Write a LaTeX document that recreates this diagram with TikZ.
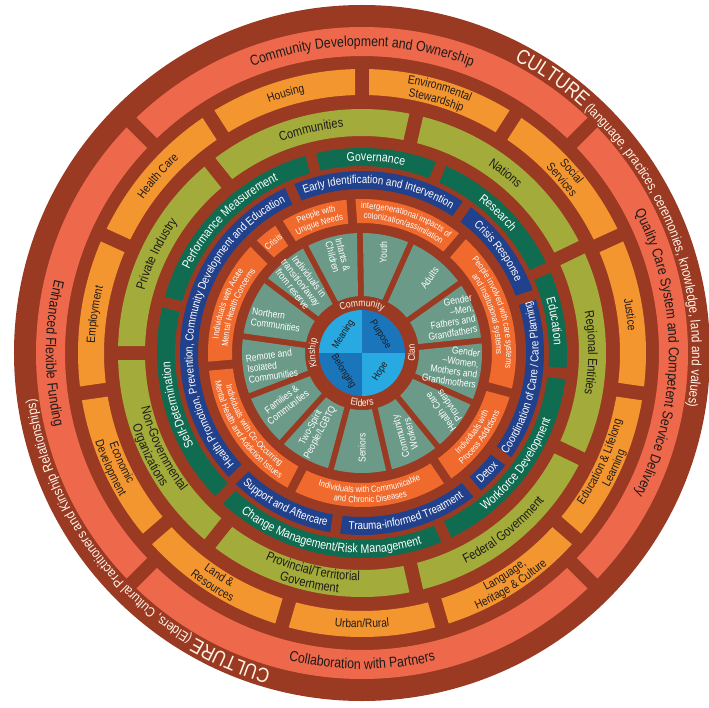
\documentclass[tikz,border=0pt]{standalone}
\usepackage{fontspec}
\setmainfont{Liberation Sans}[FakeStretch=0.85]
\usetikzlibrary{decorations.text}
\definecolor{rust}{HTML}{9A3A22}
\definecolor{salmon}{HTML}{EE694B}
\definecolor{amber}{HTML}{F3962F}
\definecolor{olive}{HTML}{A3AB3A}
\definecolor{pine}{HTML}{0F6C51}
\definecolor{navy}{HTML}{21418D}
\definecolor{flame}{HTML}{EF6A2C}
\definecolor{sage}{HTML}{6B9A88}
\definecolor{sky}{HTML}{29A9E1}
\definecolor{deepsky}{HTML}{1B75BB}
\definecolor{cream}{HTML}{FFF4E8}
\definecolor{ink}{HTML}{1E1A1A}
\newcommand\fsA{\fontsize{14.5}{15}\selectfont}
\newcommand\fsB{\fontsize{12}{12}\selectfont}
\newcommand\fsL{\fontsize{13}{13}\selectfont}
\newcommand\fsG{\fontsize{12.5}{12.5}\selectfont}
\newcommand\fsN{\fontsize{11.5}{11.5}\selectfont}
\newcommand\fsR{\fontsize{9}{9}\selectfont}
\newcommand\fsW{\fontsize{10}{10.5}\selectfont}
\newcommand\fsK{\fontsize{10}{10}\selectfont}
\newcommand\fsC{\fontsize{20.5}{20.5}\selectfont}
\newcommand\fsD{\fontsize{13.8}{13.8}\selectfont}
\newcommand\ringseg[6]{%
  \pgfmathsetmacro\angA{#5+#2*28.648/#3}%
  \pgfmathsetmacro\angB{#6-#2*28.648/#3}%
  \pgfmathsetmacro\angC{#5+#2*28.648/#4}%
  \pgfmathsetmacro\angD{#6-#2*28.648/#4}%
  \fill[#1] (\angA:#3pt) arc[start angle=\angA,end angle=\angB,radius=#3pt] -- (\angD:#4pt) arc[start angle=\angD,end angle=\angC,radius=#4pt] -- cycle;}
\newcommand\arctxt[6]{%
  \path[decorate,decoration={text along path,text align=center,text color=#2,text={|#1|#6}}] (#4:#3pt) arc[start angle=#4,end angle=#5,radius=#3pt];}

\begin{document}
\begin{tikzpicture}[wedgelabel/.style={text=white,font=\fsW,align=center,inner sep=0pt},corelabel/.style={text=ink,font=\fsK,inner sep=0pt}]
\fill[white] (-362pt,-354pt) rectangle (347pt,353pt);
\useasboundingbox (-362pt,-354pt) rectangle (347pt,353pt);
\fill[rust] (0,0) circle[radius=348pt];
\foreach \a/\b in {45/135,135/225,225/315,315/405} {\ringseg{salmon}{14}{297}{326}{\a}{\b}}
\foreach \k in {0,...,10} {\ringseg{amber}{14}{258}{284}{90+\k*32.727}{122.727+\k*32.727}}
\foreach \k in {0,...,6} {\ringseg{olive}{14}{217}{244}{25.714+\k*51.429}{77.143+\k*51.429}}
\foreach \a/\b in {24.6/67.3,67.3/104.5,104.5/165.6,165.6/225.8,225.8/294.3,294.3/354.2,354.2/384.6} {\ringseg{pine}{11}{187}{205}{\a}{\b}}
\foreach \a/\b in {18.7/54.8,54.8/113.4,113.4/224.5,224.5/261.5,261.5/309.3,309.3/323.5,323.5/378.7} {\ringseg{navy}{10}{164}{182}{\a}{\b}}
\foreach \a/\b in {49.3/94.1,94.1/122.6,122.6/134.7,134.7/184.9,184.9/242.7,242.7/303.8,303.8/345,345/409.3} {\ringseg{flame}{9}{130}{154}{\a}{\b}}
\foreach \a/\b in {6/35.5,35.5/66,66/91,91/118,118/143,143/172,172/201,201/228,228/255,255/283,283/309,309/336,336/366} {\ringseg{sage}{6}{57}{120}{\a}{\b}}
\fill[sky] (0,0) -- (90:43pt) arc[start angle=90,end angle=180,radius=43pt] -- cycle;
\fill[deepsky] (0,0) -- (0:43pt) arc[start angle=0,end angle=90,radius=43pt] -- cycle;
\fill[deepsky] (0,0) -- (180:43pt) arc[start angle=180,end angle=270,radius=43pt] -- cycle;
\fill[sky] (0,0) -- (270:43pt) arc[start angle=270,end angle=360,radius=43pt] -- cycle;
\path[decorate,decoration={text along path,text align=left,text color=cream,text={|\fsC|CULTURE|\fsD| (language, practices, ceremonies, knowledge, land and values)}}] (62.5:330pt) arc[start angle=62.5,end angle=-15,radius=330pt];
\path[decorate,decoration={text along path,text align=left,text color=cream,text={|\fsC|CULTURE|\fsD| (Elders, Cultural Practitioners and Kinship Relationships)}}] (254:330pt) arc[start angle=254,end angle=165,radius=330pt];
\arctxt{\fsA}{ink}{306.9}{135}{45}{Community Development and Ownership}
\arctxt{\fsA}{ink}{306.9}{45}{-45}{Quality Care System and Competent Service Delivery}
\arctxt{\fsA}{ink}{316.1}{225}{315}{Collaboration with Partners}
\arctxt{\fsA}{ink}{316.1}{135}{225}{Enhanced Flexible Funding}
\arctxt{\fsB}{ink}{267.2}{122.73}{90}{Housing}
\arctxt{\fsB}{ink}{267.2}{155.45}{122.73}{Health Care}
\arctxt{\fsB}{ink}{267.2}{188.18}{155.45}{Employment}
\arctxt{\fsB}{ink}{268.3}{188.18}{220.91}{Economic}
\arctxt{\fsB}{ink}{281.2}{188.18}{220.91}{Development}
\arctxt{\fsB}{ink}{268.3}{220.91}{253.64}{Land {\&}}
\arctxt{\fsB}{ink}{281.2}{220.91}{253.64}{Resources}
\arctxt{\fsB}{ink}{274.8}{253.64}{286.36}{Urban/Rural}
\arctxt{\fsB}{ink}{268.3}{286.36}{319.09}{Language,}
\arctxt{\fsB}{ink}{281.2}{286.36}{319.09}{Heritage {\&} Culture}
\arctxt{\fsB}{ink}{268.3}{319.09}{351.82}{Education {\&} Lifelong}
\arctxt{\fsB}{ink}{281.2}{319.09}{351.82}{Learning}
\arctxt{\fsB}{ink}{267.2}{384.55}{351.82}{Justice}
\arctxt{\fsB}{ink}{273.7}{57.27}{24.55}{Social}
\arctxt{\fsB}{ink}{260.8}{57.27}{24.55}{Services}
\arctxt{\fsB}{ink}{273.7}{90}{57.27}{Environmental}
\arctxt{\fsB}{ink}{260.8}{90}{57.27}{Stewardship}
\arctxt{\fsL}{ink}{226.3}{77.14}{25.71}{Nations}
\arctxt{\fsL}{ink}{226.3}{128.57}{77.14}{Communities}
\arctxt{\fsL}{ink}{226.3}{180}{128.57}{Private Industry}
\arctxt{\fsL}{ink}{227.6}{180}{231.43}{Non-Governmental}
\arctxt{\fsL}{ink}{241}{180}{231.43}{Organizations}
\arctxt{\fsL}{ink}{227.6}{231.43}{282.86}{Provincial/Territorial}
\arctxt{\fsL}{ink}{241}{231.43}{282.86}{Government}
\arctxt{\fsL}{ink}{234.7}{282.86}{334.29}{Federal Government}
\arctxt{\fsL}{ink}{226.3}{385.71}{334.29}{Regional Entities}
\arctxt{\fsG}{white}{192}{67.3}{24.6}{Research}
\arctxt{\fsG}{white}{192}{104.5}{67.3}{Governance}
\arctxt{\fsG}{white}{192}{165.6}{104.5}{Performance Measurement}
\arctxt{\fsG}{white}{192}{225.8}{165.6}{Self-Determination}
\arctxt{\fsG}{white}{200}{225.8}{294.3}{Change Management/Risk Management}
\arctxt{\fsG}{white}{200}{294.3}{354.2}{Workforce Development}
\arctxt{\fsG}{white}{192}{384.6}{354.2}{Education}
\arctxt{\fsN}{white}{169.3}{54.8}{18.7}{Crisis Response}
\arctxt{\fsN}{white}{169.3}{113.4}{54.8}{Early Identification and Intervention}
\arctxt{\fsN}{white}{169.3}{224.5}{113.4}{Health Promotion, Prevention, Community Development and Education}
\arctxt{\fsN}{white}{176.7}{224.5}{261.5}{Support and Aftercare}
\arctxt{\fsN}{white}{176.7}{261.5}{309.3}{Trauma-informed Treatment}
\arctxt{\fsN}{white}{176.7}{309.3}{323.5}{Detox}
\arctxt{\fsN}{white}{176.7}{323.5}{378.7}{Coordination of Care / Care Planning}
\arctxt{\fsR}{white}{144.1}{94.1}{49.3}{intergenerational impacts of}
\arctxt{\fsR}{white}{134.1}{94.1}{49.3}{colonization/assimilation}
\arctxt{\fsR}{white}{144.1}{122.6}{94.1}{People with}
\arctxt{\fsR}{white}{134.1}{122.6}{94.1}{Unique Needs}
\arctxt{\fsR}{white}{139.1}{134.7}{122.6}{Crisis}
\arctxt{\fsR}{white}{144.1}{184.9}{134.7}{Individuals with Acute}
\arctxt{\fsR}{white}{134.1}{184.9}{134.7}{Mental Health Concerns}
\arctxt{\fsR}{white}{139.9}{184.9}{242.7}{Individuals with Co-Occurring}
\arctxt{\fsR}{white}{149.9}{184.9}{242.7}{Mental Health and Addiction Issues}
\arctxt{\fsR}{white}{139.9}{242.7}{303.8}{Individuals with Communicable}
\arctxt{\fsR}{white}{149.9}{242.7}{303.8}{and Chronic Diseases}
\arctxt{\fsR}{white}{139.9}{303.8}{345}{Individuals with}
\arctxt{\fsR}{white}{149.9}{303.8}{345}{Process Addictions}
\arctxt{\fsR}{white}{144.1}{409.3}{345}{People involved with care systems}
\arctxt{\fsR}{white}{134.1}{409.3}{345}{and institutional systems}
\arctxt{\fsK}{cream}{46.8}{130}{50}{Community}
\arctxt{\fsK}{cream}{53.2}{230}{310}{Elders}
\arctxt{\fsK}{cream}{53.2}{-40}{40}{Clan}
\arctxt{\fsK}{cream}{46.8}{220}{140}{Kinship}
\node[wedgelabel,rotate=88] (youth) at (78:103pt) {Youth};
\node[wedgelabel,rotate=-75] (infants) at (104:100pt) {Infants \&\\Children};
\node[wedgelabel,rotate=-52] (transition) at (131:93pt) {Individuals in\\transition/away\\from reserve};
\node[wedgelabel,rotate=-8,align=left] (northern) at (159:92pt) {Northern\\Communities};
\node[wedgelabel,rotate=8,align=left] (remote) at (188:91pt) {Remote and\\Isolated\\Communities};
\node[wedgelabel,rotate=38] (families) at (213:92pt) {Families \&\\Communities};
\node[wedgelabel,rotate=62] (twospirit) at (239:90pt) {Two-Spirit\\People/LGBTQ};
\node[wedgelabel,rotate=90] (seniors) at (270:95pt) {Seniors};
\node[wedgelabel,rotate=105] (workers) at (298:93pt) {Community\\Workers};
\node[wedgelabel,rotate=125] (providers) at (326:100pt) {Health Care\\Providers};
\node[wedgelabel,rotate=-8,align=right] (women) at (352:90pt) {Gender\\–Women,\\Mothers and\\Grandmothers};
\node[wedgelabel,rotate=10,align=right] (men) at (22:95pt) {Gender\\–Men,\\Fathers and\\Grandfathers};
\node[wedgelabel,rotate=55] (adults) at (48:101pt) {Adults};
\node[corelabel,rotate=58] (meaning) at (135:26pt) {Meaning};
\node[corelabel,rotate=-58] (purpose) at (45:26pt) {Purpose};
\node[corelabel,rotate=-58] (belonging) at (225:26pt) {Belonging};
\node[corelabel,rotate=58] (hope) at (315:26pt) {Hope};
\end{tikzpicture}
\end{document}
